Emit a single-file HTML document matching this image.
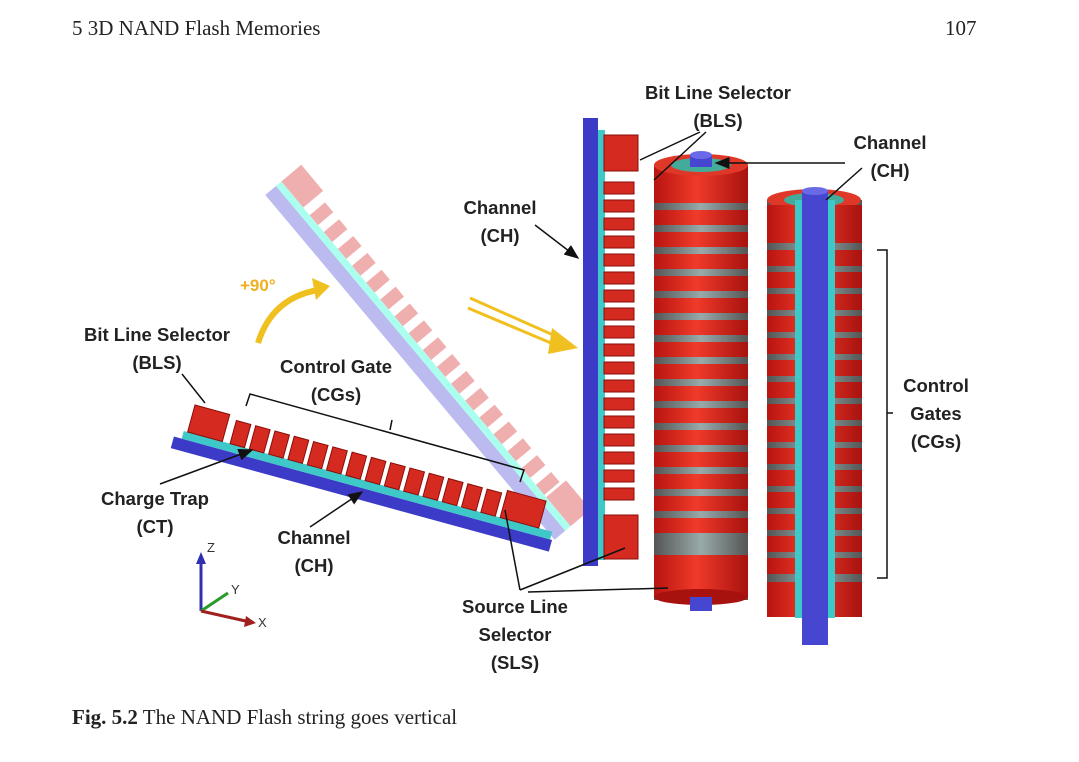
<!DOCTYPE html>
<html><head><meta charset="utf-8"><style>
html,body{margin:0;padding:0;background:#fff}
svg{display:block}
.s{font-family:"Liberation Serif",serif;font-size:21px;fill:#222}
.l{font-family:"Liberation Sans",sans-serif;font-size:18.5px;font-weight:bold;fill:#222}
</style></head><body>
<svg width="1079" height="762" viewBox="0 0 1079 762" xmlns="http://www.w3.org/2000/svg">
<defs>
<marker id="a" markerWidth="10" markerHeight="8" refX="9" refY="4" orient="auto"><path d="M0,0 L10,4 L0,8z" fill="#111"/></marker>
<linearGradient id="rg" x1="0" x2="1"><stop offset="0" stop-color="#b81410"/><stop offset=".45" stop-color="#f03a2a"/><stop offset="1" stop-color="#a8120e"/></linearGradient>
<linearGradient id="gg" x1="0" x2="1"><stop offset="0" stop-color="#555"/><stop offset=".5" stop-color="#9aa"/><stop offset="1" stop-color="#555"/></linearGradient>
</defs>
<text x="72" y="35" class="s">5   3D NAND Flash Memories</text>
<text x="945" y="35" class="s">107</text>
<text x="72" y="724" class="s"><tspan font-weight="bold">Fig. 5.2</tspan>  The NAND Flash string goes vertical</text>

<!-- diagonal faded string -->
<g transform="translate(276,186) rotate(50)" opacity="0.45">
<rect x="0" y="0" width="450" height="14" fill="#6a6ae0"/>
<rect x="0" y="-7" width="450" height="7" fill="#4fd"/>
<g fill="#e05050">
<rect x="0" y="-33" width="34" height="26"/>
<rect x="44" y="-27" width="13" height="20"/><rect x="66" y="-27" width="13" height="20"/><rect x="88" y="-27" width="13" height="20"/><rect x="110" y="-27" width="13" height="20"/><rect x="132" y="-27" width="13" height="20"/><rect x="154" y="-27" width="13" height="20"/><rect x="176" y="-27" width="13" height="20"/><rect x="198" y="-27" width="13" height="20"/><rect x="220" y="-27" width="13" height="20"/><rect x="242" y="-27" width="13" height="20"/><rect x="264" y="-27" width="13" height="20"/><rect x="286" y="-27" width="13" height="20"/><rect x="308" y="-27" width="13" height="20"/><rect x="330" y="-27" width="13" height="20"/><rect x="352" y="-27" width="13" height="20"/><rect x="374" y="-27" width="13" height="20"/><rect x="396" y="-27" width="13" height="20"/>
<rect x="412" y="-33" width="38" height="26"/></g>
</g>

<!-- horizontal string -->
<g transform="translate(195,405) rotate(15.3)">
<rect x="-12" y="36" width="392" height="12" fill="#3b3bc8"/>
<rect x="-4" y="28" width="382" height="8" fill="#3ec8c8"/>
<g fill="#d42a20" stroke="#8a0e0a" stroke-width="1">
<rect x="0" y="0" width="36" height="28"/>
<rect x="44" y="4" width="15" height="24"/><rect x="64" y="4" width="15" height="24"/><rect x="84" y="4" width="15" height="24"/><rect x="104" y="4" width="15" height="24"/><rect x="124" y="4" width="15" height="24"/><rect x="144" y="4" width="15" height="24"/><rect x="164" y="4" width="15" height="24"/><rect x="184" y="4" width="15" height="24"/><rect x="204" y="4" width="15" height="24"/><rect x="224" y="4" width="15" height="24"/><rect x="244" y="4" width="15" height="24"/><rect x="264" y="4" width="15" height="24"/><rect x="284" y="4" width="15" height="24"/><rect x="304" y="4" width="15" height="24"/>
<rect x="324" y="0" width="40" height="28"/></g>
</g>

<!-- vertical string -->
<rect x="583" y="118" width="15" height="448" fill="#3b3bc8"/>
<rect x="598" y="130" width="7" height="430" fill="#3ec8c8"/>
<g fill="#d42a20" stroke="#8a0e0a" stroke-width="1">
<rect x="604" y="135" width="34" height="36"/>
<rect x="604" y="182" width="30" height="12"/><rect x="604" y="200" width="30" height="12"/><rect x="604" y="218" width="30" height="12"/><rect x="604" y="236" width="30" height="12"/><rect x="604" y="254" width="30" height="12"/><rect x="604" y="272" width="30" height="12"/><rect x="604" y="290" width="30" height="12"/><rect x="604" y="308" width="30" height="12"/><rect x="604" y="326" width="30" height="12"/><rect x="604" y="344" width="30" height="12"/><rect x="604" y="362" width="30" height="12"/><rect x="604" y="380" width="30" height="12"/><rect x="604" y="398" width="30" height="12"/><rect x="604" y="416" width="30" height="12"/><rect x="604" y="434" width="30" height="12"/><rect x="604" y="452" width="30" height="12"/><rect x="604" y="470" width="30" height="12"/><rect x="604" y="488" width="30" height="12"/>
<rect x="604" y="515" width="34" height="44"/></g>

<!-- cylinder 1 -->
<rect x="654" y="165" width="94" height="435" fill="url(#gg)"/>
<rect x="654" y="165" width="94" height="38" fill="url(#rg)"/>
<ellipse cx="701" cy="165" rx="47" ry="11" fill="#e03828"/>
<ellipse cx="701" cy="165" rx="30" ry="7" fill="#4a9"/>
<rect x="690" y="155" width="22" height="12" fill="#4646d0"/>
<ellipse cx="701" cy="155" rx="11" ry="4" fill="#6a6ae8"/>
<g fill="url(#rg)">
<rect x="654" y="210" width="94" height="15"/><rect x="654" y="232" width="94" height="15"/><rect x="654" y="254" width="94" height="15"/><rect x="654" y="276" width="94" height="15"/><rect x="654" y="298" width="94" height="15"/><rect x="654" y="320" width="94" height="15"/><rect x="654" y="342" width="94" height="15"/><rect x="654" y="364" width="94" height="15"/><rect x="654" y="386" width="94" height="15"/><rect x="654" y="408" width="94" height="15"/><rect x="654" y="430" width="94" height="15"/><rect x="654" y="452" width="94" height="15"/><rect x="654" y="474" width="94" height="15"/><rect x="654" y="496" width="94" height="15"/><rect x="654" y="518" width="94" height="15"/>
<rect x="654" y="555" width="94" height="42"/></g>
<ellipse cx="701" cy="597" rx="47" ry="8" fill="#a8120e"/>
<rect x="690" y="597" width="22" height="14" fill="#4646d0"/>

<!-- cylinder 2 (cutaway) -->
<rect x="767" y="200" width="95" height="415" fill="url(#gg)"/>
<ellipse cx="814" cy="200" rx="47" ry="11" fill="#e03828"/>
<ellipse cx="814" cy="200" rx="30" ry="7" fill="#4a9"/>
<g fill="url(#rg)">
<rect x="767" y="205" width="95" height="38"/>
<rect x="767" y="250" width="95" height="16"/><rect x="767" y="272" width="95" height="16"/><rect x="767" y="294" width="95" height="16"/><rect x="767" y="316" width="95" height="16"/><rect x="767" y="338" width="95" height="16"/><rect x="767" y="360" width="95" height="16"/><rect x="767" y="382" width="95" height="16"/><rect x="767" y="404" width="95" height="16"/><rect x="767" y="426" width="95" height="16"/><rect x="767" y="448" width="95" height="16"/><rect x="767" y="470" width="95" height="16"/><rect x="767" y="492" width="95" height="16"/><rect x="767" y="514" width="95" height="16"/><rect x="767" y="536" width="95" height="16"/><rect x="767" y="558" width="95" height="16"/>
<rect x="767" y="582" width="95" height="35"/></g>
<rect x="795" y="200" width="7" height="418" fill="#3ec8c8"/>
<rect x="828" y="200" width="7" height="418" fill="#3ec8c8"/>
<rect x="802" y="190" width="26" height="455" fill="#4646d0"/>
<ellipse cx="815" cy="191" rx="13" ry="4" fill="#6a6ae8"/>

<!-- yellow arrows -->
<path d="M258,343 Q272,298 318,290" fill="none" stroke="#f0c020" stroke-width="6"/>
<path d="M330,286 L312,278 L316,300z" fill="#f0c020"/>
<path d="M470,298 L560,338" stroke="#f0c020" stroke-width="3"/>
<path d="M468,308 L558,346" stroke="#f0c020" stroke-width="3"/>
<path d="M578,348 L552,328 L548,354z" fill="#f0c020"/>
<text x="240" y="291" font-family="Liberation Sans,sans-serif" font-size="17" font-weight="bold" fill="#f0b020">+90°</text>

<!-- labels -->
<text x="157" y="341" class="l" text-anchor="middle">Bit Line Selector</text>
<text x="157" y="369" class="l" text-anchor="middle">(BLS)</text>
<line x1="182" y1="374" x2="205" y2="403" stroke="#111" stroke-width="1.5"/>
<text x="336" y="373" class="l" text-anchor="middle">Control Gate</text>
<text x="336" y="401" class="l" text-anchor="middle">(CGs)</text>
<path d="M246,406 L250,394 L524,470 L520,482" fill="none" stroke="#111" stroke-width="1.5"/>
<line x1="390" y1="430" x2="392" y2="420" stroke="#111" stroke-width="1.5"/>
<text x="155" y="505" class="l" text-anchor="middle">Charge Trap</text>
<text x="155" y="533" class="l" text-anchor="middle">(CT)</text>
<line x1="160" y1="484" x2="252" y2="450" stroke="#111" stroke-width="1.5" marker-end="url(#a)"/>
<text x="314" y="544" class="l" text-anchor="middle">Channel</text>
<text x="314" y="572" class="l" text-anchor="middle">(CH)</text>
<line x1="310" y1="527" x2="362" y2="492" stroke="#111" stroke-width="1.5" marker-end="url(#a)"/>
<text x="718" y="99" class="l" text-anchor="middle">Bit Line Selector</text>
<text x="718" y="127" class="l" text-anchor="middle">(BLS)</text>
<line x1="700" y1="132" x2="640" y2="160" stroke="#111" stroke-width="1.5"/>
<line x1="706" y1="132" x2="654" y2="180" stroke="#111" stroke-width="1.5"/>
<text x="500" y="214" class="l" text-anchor="middle">Channel</text>
<text x="500" y="242" class="l" text-anchor="middle">(CH)</text>
<line x1="535" y1="225" x2="578" y2="258" stroke="#111" stroke-width="1.5" marker-end="url(#a)"/>
<text x="890" y="149" class="l" text-anchor="middle">Channel</text>
<text x="890" y="177" class="l" text-anchor="middle">(CH)</text>
<line x1="845" y1="163" x2="716" y2="163" stroke="#111" stroke-width="1.5" marker-end="url(#a)"/>
<line x1="862" y1="168" x2="826" y2="200" stroke="#111" stroke-width="1.5"/>
<path d="M877,250 L887,250 L887,578 L877,578 M887,413 L893,413" fill="none" stroke="#111" stroke-width="1.5"/>
<text x="936" y="392" class="l" text-anchor="middle">Control</text>
<text x="936" y="420" class="l" text-anchor="middle">Gates</text>
<text x="936" y="448" class="l" text-anchor="middle">(CGs)</text>
<text x="515" y="613" class="l" text-anchor="middle">Source Line</text>
<text x="515" y="641" class="l" text-anchor="middle">Selector</text>
<text x="515" y="669" class="l" text-anchor="middle">(SLS)</text>
<line x1="520" y1="590" x2="505" y2="510" stroke="#111" stroke-width="1.5"/>
<line x1="520" y1="590" x2="625" y2="548" stroke="#111" stroke-width="1.5"/>
<line x1="528" y1="592" x2="668" y2="588" stroke="#111" stroke-width="1.5"/>

<!-- axes -->
<line x1="201" y1="611" x2="201" y2="562" stroke="#3030b0" stroke-width="3"/>
<path d="M196,564 L201,552 L206,564z" fill="#3030b0"/>
<line x1="201" y1="611" x2="228" y2="593" stroke="#2a9a2a" stroke-width="3"/>
<line x1="201" y1="611" x2="250" y2="622" stroke="#a02020" stroke-width="3"/>
<path d="M246,616 L256,623 L244,627z" fill="#a02020"/>
<text x="207" y="552" font-family="Liberation Sans,sans-serif" font-size="13" fill="#333">Z</text>
<text x="231" y="594" font-family="Liberation Sans,sans-serif" font-size="13" fill="#333">Y</text>
<text x="258" y="627" font-family="Liberation Sans,sans-serif" font-size="13" fill="#333">X</text>
</svg>
</body></html>
